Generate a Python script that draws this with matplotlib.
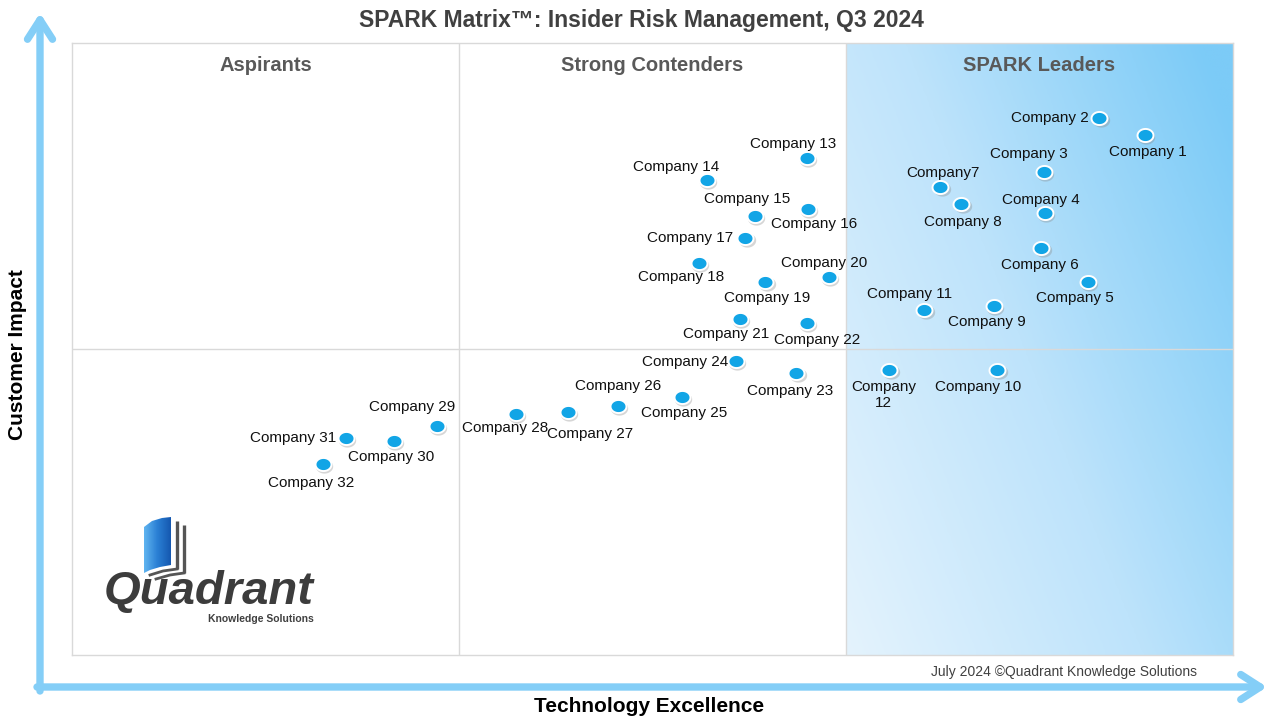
import numpy as np
import matplotlib
matplotlib.use("Agg")
import matplotlib.pyplot as plt
from matplotlib.path import Path
from matplotlib.patches import Polygon
from matplotlib.colors import LinearSegmentedColormap
import matplotlib.transforms as mtransforms

plt.rcParams['font.family'] = ['Liberation Sans', 'DejaVu Sans']

# Vendor scores (0-100 on both axes)
companies = ["Company 1", "Company 2", "Company 3", "Company 4", "Company 5", "Company 6",
             "Company7", "Company 8", "Company 9", "Company 10", "Company 11", "Company\n12",
             "Company 13", "Company 14", "Company 15", "Company 16", "Company 17", "Company 18",
             "Company 19", "Company 20", "Company 21", "Company 22", "Company 23", "Company 24",
             "Company 25", "Company 26", "Company 27", "Company 28", "Company 29", "Company 30",
             "Company 31", "Company 32"]
tech_excellence = [92.4, 88.5, 83.7, 83.8, 87.5, 83.5, 74.8, 76.6, 79.4, 79.7, 73.4, 70.4,
                   63.3, 54.7, 58.8, 63.4, 58.0, 54.0, 59.7, 65.2, 57.5, 63.3, 62.4, 57.2,
                   52.5, 47.0, 42.7, 38.2, 31.4, 27.7, 23.6, 21.6]
customer_impact = [85.0, 87.7, 78.9, 72.2, 60.9, 66.5, 76.5, 73.7, 57.0, 46.6, 56.4, 46.6,
                   81.2, 77.6, 71.7, 72.9, 68.1, 64.1, 60.9, 61.8, 54.9, 54.2, 46.1, 48.0,
                   42.2, 40.7, 39.7, 39.4, 37.4, 35.0, 35.5, 31.2]
quadrants = ["Aspirants", "Strong Contenders", "SPARK Leaders"]

# label offsets from the dot, in pixels (right, down)
label_offsets = [(3, 17), (-50, 0), (-15, -18), (-4, -13), (-13, 16), (-2, 17),
                 (3, -14), (2, 18), (-7, 16), (-19, 17), (-15, -16), (-6, 25),
                 (-14, -14), (-31, -13), (-8, -17), (6, 15), (-55, 0), (-18, 14),
                 (2, 16), (-5, -14), (-13, 15), (10, 17), (-6, 18), (-51, 1),
                 (3, 16), (0, -20), (22, 22), (-10, 14), (-24, -19), (-2, 16),
                 (-53, 0), (-12, 19)]

W, H = 1280, 720
fig = plt.figure(figsize=(12.8, 7.2), dpi=100)
ax = fig.add_axes([72 / W, 1 - 655 / H, 1161 / W, 612 / H])
ax.set_xticks([])
ax.set_yticks([])
for s in ax.spines.values():
    s.set_color('#d9d9d9')
    s.set_linewidth(1)

# leaders gradient background
gx, gy = np.meshgrid(np.linspace(0, 1, 200), np.linspace(0, 1, 200))
t = np.clip(0.65 * gx + 0.4 * gy, 0, 1)
cmap = LinearSegmentedColormap.from_list('lead', ['#e4f3fd', '#bde3fb', '#7ccbf7'])
ax.imshow(t, cmap=cmap, extent=(100 * 2 / 3, 100, 0, 100), origin='lower',
          aspect='auto', zorder=0, interpolation='bilinear')
ax.set_xlim(0, 100)
ax.set_ylim(0, 100)

ax.axvline(100 / 3, color='#d9d9d9', lw=1, zorder=1)
ax.axvline(200 / 3, color='#d9d9d9', lw=1, zorder=1)
ax.axhline(50, color='#d9d9d9', lw=1, zorder=1)

for i, q in enumerate(quadrants):
    ax.text(100 / 6 + i * 100 / 3, 96.4, q, ha='center', va='center',
            fontsize=14.5, fontweight='bold', color='#595959')

# elliptical dot marker
th = np.linspace(0, 2 * np.pi, 60)
ell = Path(np.column_stack([np.cos(th), 0.82 * np.sin(th)]), closed=True)

shadow_tr = mtransforms.offset_copy(ax.transData, fig=fig, x=1.0, y=-1.5, units='points')
ax.plot(tech_excellence, customer_impact, ls='none', marker=ell, ms=12.5,
        mfc='#8a8a8a', mec='none', alpha=0.35, transform=shadow_tr, zorder=3)
ax.plot(tech_excellence, customer_impact, ls='none', marker=ell, ms=11.5,
        mfc='#12a5e6', mec='white', mew=1.4, zorder=4)

for name, x, y, (dx, dy) in zip(companies, tech_excellence, customer_impact, label_offsets):
    ax.annotate(name, (x, y), xytext=(dx * 0.72, -dy * 0.72), textcoords='offset points',
                ha='center', va='center', fontsize=11, color='#111111', zorder=5,
                linespacing=1.15)

# overlay in pixel coordinates for decorations
ov = fig.add_axes([0, 0, 1, 1], facecolor='none')
ov.axis('off')

arrow_col = '#84cef7'
ov.annotate('', xy=(40, 13), xytext=(40, 691),
            arrowprops=dict(arrowstyle='->,head_length=0.7,head_width=0.45', lw=5.3,
                            color=arrow_col, mutation_scale=20, shrinkA=0, shrinkB=0))
ov.annotate('', xy=(1267, 687), xytext=(37, 687),
            arrowprops=dict(arrowstyle='->,head_length=0.7,head_width=0.45', lw=5.3,
                            color=arrow_col, mutation_scale=20, shrinkA=0, shrinkB=0))

fig.text(641 / W, 1 - 21 / H, 'SPARK Matrix\u2122: Insider Risk Management, Q3 2024',
         ha='center', va='center', fontsize=16.5, fontweight='bold', color='#404040')
fig.text(18 / W, 1 - 355 / H, 'Customer Impact', rotation=90, ha='center', va='center',
         fontsize=15, fontweight='bold', color='#000000')
fig.text(649 / W, 1 - 706 / H, 'Technology Excellence', ha='center', va='center',
         fontsize=15, fontweight='bold', color='#000000')
fig.text(1064 / W, 1 - 672 / H, 'July 2024 \u00a9Quadrant Knowledge Solutions',
         ha='center', va='center', fontsize=10, color='#404040')

# logo
page = Polygon([(144, 573), (144, 527), (152, 521), (162, 518), (171, 517),
                (171, 565), (160, 567), (150, 570)], closed=True,
               facecolor='none', edgecolor='none')
ov.add_patch(page)
lg = np.linspace(0, 1, 50)[None, :]
pcmap = LinearSegmentedColormap.from_list('pg', ['#5fb4f0', '#2a7fd4', '#1558b0'])
im = ov.imshow(np.repeat(lg, 10, axis=0), cmap=pcmap, extent=(144, 171, 573, 517),
               aspect='auto', zorder=2)
im.set_clip_path(page)
ov.set_xlim(0, W)
ov.set_ylim(H, 0)
ov.plot([177, 177], [521, 569], color='#555555', lw=2.4, solid_capstyle='butt')
ov.plot([184, 184], [525, 573], color='#555555', lw=2.4, solid_capstyle='butt')
ov.plot([150, 163, 177], [575, 571, 569], color='#555555', lw=2)
ov.plot([156, 170, 184], [579, 575, 573], color='#555555', lw=2)
ov.text(209, 604, 'Quadrant', ha='center', va='baseline', fontsize=34,
        fontweight='bold', fontstyle='italic', color='#3c3c3c')
ov.text(314, 619, 'Knowledge Solutions', ha='right', va='center', fontsize=7.5,
        fontweight='bold', color='#404040')

fig.savefig('out.png', dpi=100)
